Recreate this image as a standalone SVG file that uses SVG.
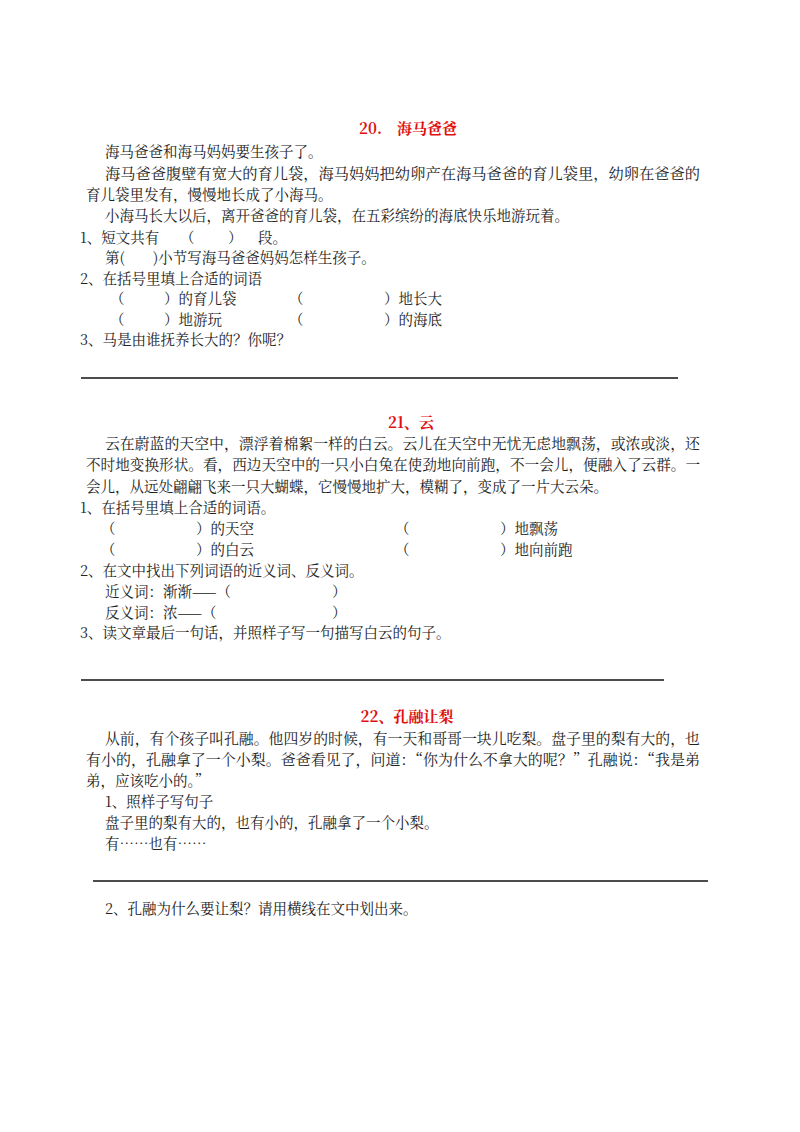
<svg xmlns="http://www.w3.org/2000/svg" width="800" height="1132" viewBox="0 0 800 1132">
<style>
text{font-family:"Noto Serif CJK SC","Noto Sans CJK SC",serif;font-size:14.5px;fill:#222}
.t{fill:#e01010;font-weight:bold;font-size:15px;text-anchor:middle}
.hr{stroke:#111;stroke-width:1.3}
</style>
<rect width="800" height="1132" fill="#fff"/>
<g id="s20">
<text class="t" x="408" y="134">20.　海马爸爸</text>
<text x="105" y="157">海马爸爸和海马妈妈要生孩子了。</text>
<text x="105" y="179" textLength="595" lengthAdjust="spacingAndGlyphs">海马爸爸腹壁有宽大的育儿袋，海马妈妈把幼卵产在海马爸爸的育儿袋里，幼卵在爸爸的</text>
<text x="86" y="200">育儿袋里发有，慢慢地长成了小海马。</text>
<text x="105" y="221">小海马长大以后，离开爸爸的育儿袋，在五彩缤纷的海底快乐地游玩着。</text>
<text x="80" y="243">1、短文共有</text><text x="180" y="243">（</text><text x="228" y="243">）</text><text x="258" y="243">段。</text>
<text x="105" y="263">第(</text><text x="153" y="263">)小节写海马爸爸妈妈怎样生孩子。</text>
<text x="80" y="284">2、在括号里填上合适的词语</text>
<text x="110" y="304">（</text><text x="164" y="304">）的育儿袋</text><text x="289" y="304">（</text><text x="384" y="304">）地长大</text>
<text x="110" y="325">（</text><text x="164" y="325">）地游玩</text><text x="289" y="325">（</text><text x="384" y="325">）的海底</text>
<text x="80" y="345">3、马是由谁抚养长大的？你呢？</text>
</g>
<g id="s21">
<text class="t" x="411" y="428">21、云</text>
<text x="105" y="449" textLength="595" lengthAdjust="spacingAndGlyphs">云在蔚蓝的天空中，漂浮着棉絮一样的白云。云儿在天空中无忧无虑地飘荡，或浓或淡，还</text>
<text x="86" y="470" textLength="614" lengthAdjust="spacingAndGlyphs">不时地变换形状。看，西边天空中的一只小白兔在使劲地向前跑，不一会儿，便融入了云群。一</text>
<text x="86" y="492">会儿，从远处翩翩飞来一只大蝴蝶，它慢慢地扩大，模糊了，变成了一片大云朵。</text>
<text x="80" y="513">1、在括号里填上合适的词语。</text>
<text x="101" y="534">（</text><text x="196" y="534">）的天空</text><text x="395" y="534">（</text><text x="500" y="534">）地飘荡</text>
<text x="101" y="555">（</text><text x="196" y="555">）的白云</text><text x="395" y="555">（</text><text x="500" y="555">）地向前跑</text>
<text x="80" y="576">2、在文中找出下列词语的近义词、反义词。</text>
<text x="105" y="597">近义词：渐渐——（</text><text x="332" y="597">）</text>
<text x="105" y="618">反义词：浓——（</text><text x="332" y="618">）</text>
<text x="80" y="638">3、读文章最后一句话，并照样子写一句描写白云的句子。</text>
</g>
<g id="s22">
<text class="t" x="407" y="722">22、孔融让梨</text>
<text x="105" y="744" textLength="595" lengthAdjust="spacingAndGlyphs">从前，有个孩子叫孔融。他四岁的时候，有一天和哥哥一块儿吃梨。盘子里的梨有大的，也</text>
<text x="86" y="765" textLength="614" lengthAdjust="spacingAndGlyphs">有小的，孔融拿了一个小梨。爸爸看见了，问道：“你为什么不拿大的呢？”孔融说：“我是弟</text>
<text x="86" y="786">弟，应该吃小的。”</text>
<text x="105" y="807">1、照样子写句子</text>
<text x="105" y="828">盘子里的梨有大的，也有小的，孔融拿了一个小梨。</text>
<text x="105" y="849">有……也有……</text>
<text x="105" y="914">2、孔融为什么要让梨？请用横线在文中划出来。</text>
</g>
<g id="connectors">
<line class="hr" x1="81" y1="378" x2="678" y2="378"/>
<line class="hr" x1="81" y1="680" x2="664" y2="680"/>
<line class="hr" x1="93" y1="881" x2="708" y2="881"/>
</g>
</svg>
